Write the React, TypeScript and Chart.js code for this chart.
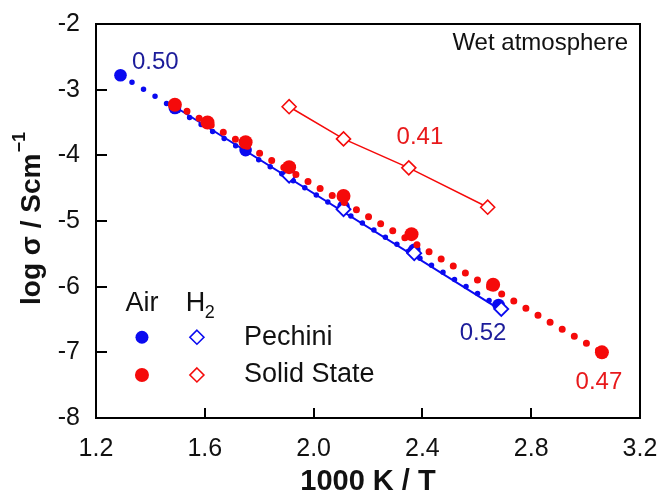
import React, { useEffect, useRef } from "react";
import { Chart, registerables } from "chart.js";

Chart.register(...registerables);

// 1000 K / T values and log conductivity for each sample
const pechiniAirX = [1.29, 1.49, 1.75, 1.91, 2.11, 2.37, 2.68];
const pechiniAirY = [-2.78, -3.28, -3.92, -4.27, -4.78, -5.44, -6.28];

const pechiniH2X = [1.91, 2.11, 2.37, 2.69];
const pechiniH2Y = [-4.31, -4.82, -5.49, -6.34];

const solidAirX = [1.49, 1.61, 1.75, 1.91, 2.11, 2.36, 2.66, 3.06];
const solidAirY = [-3.23, -3.5, -3.8, -4.18, -4.62, -5.2, -5.97, -7.0];

const solidH2X = [1.91, 2.11, 2.35, 2.64];
const solidH2Y = [-3.26, -3.75, -4.19, -4.79];

// Arrhenius fit lines (end points)
const pechiniAirFitX = [1.29, 2.7];
const pechiniAirFitY = [-2.78, -6.35];
const pechiniH2FitX = [1.49, 2.69];
const pechiniH2FitY = [-3.26, -6.36];
const solidAirFitX = [1.49, 3.06];
const solidAirFitY = [-3.22, -7.0];

// Activation energies (eV)
const eaLabels = ["0.50", "0.52", "0.47", "0.41"];

const xTicks = [1.2, 1.6, 2.0, 2.4, 2.8, 3.2];
const yTicks = [-2, -3, -4, -5, -6, -7, -8];

const BLUE = "#0a0af0";
const NAVY = "#1c1c9a";
const RED = "#f50a0a";
const RED_TEXT = "#e8191b";
const FONT = "'Liberation Sans', Arial, sans-serif";

// plot frame inside the 663x498 canvas
const AREA = { left: 96, top: 24, right: 640, bottom: 418 };

const pts = (xs: number[], ys: number[]) => xs.map((x, i) => ({ x, y: ys[i] }));

const framePlugin = {
  id: "frameAndTicks",
  beforeDatasetsDraw(chart: any) {
    const { ctx, chartArea: a, scales } = chart;
    const xs = scales.x;
    const ys = scales.y;
    ctx.save();
    ctx.strokeStyle = "#000";
    ctx.lineWidth = 2;
    ctx.strokeRect(a.left, a.top, a.right - a.left, a.bottom - a.top);
    ctx.beginPath();
    xTicks.slice(1, -1).forEach((v) => {
      const px = Math.round(xs.getPixelForValue(v));
      ctx.moveTo(px, a.bottom);
      ctx.lineTo(px, a.bottom - 10);
    });
    yTicks.slice(1, -1).forEach((v) => {
      const py = Math.round(ys.getPixelForValue(v));
      ctx.moveTo(a.left, py);
      ctx.lineTo(a.left + 11, py);
    });
    ctx.stroke();
    ctx.restore();
  },
};

const textPlugin = {
  id: "textLayer",
  afterDraw(chart: any) {
    const { ctx, scales } = chart;
    const X = (v: number) => scales.x.getPixelForValue(v);
    const Y = (v: number) => scales.y.getPixelForValue(v);
    ctx.save();
    ctx.textBaseline = "middle";

    const put = (t: string, x: number, y: number, color: string, align: CanvasTextAlign, size = 24, weight = "normal") => {
      ctx.font = `${weight} ${size}px ${FONT}`;
      ctx.fillStyle = color;
      ctx.textAlign = align;
      ctx.fillText(t, x, y);
    };

    put(eaLabels[0], X(1.332), Y(-2.58), NAVY, "left");
    put(eaLabels[1], X(2.623), Y(-6.71), NAVY, "center");
    put(eaLabels[2], X(3.049), Y(-7.45), RED_TEXT, "center");
    put(eaLabels[3], X(2.391), Y(-3.72), RED_TEXT, "center");
    put("Wet atmosphere", X(3.156), Y(-2.29), "#111", "right", 24);

    // legend block
    put("Air", X(1.369), Y(-6.25), "#111", "center", 27);
    put("H", X(1.53), Y(-6.25), "#111", "left", 27);
    ctx.font = `normal 18px ${FONT}`;
    ctx.textAlign = "left";
    ctx.fillText("2", X(1.53) + 19, Y(-6.25) + 10);

    const rows = [
      { y: -6.77, color: BLUE, r: 6.5, text: "Pechini" },
      { y: -7.345, color: RED, r: 7, text: "Solid State" },
    ];
    rows.forEach((row) => {
      const cy = Y(row.y);
      ctx.beginPath();
      ctx.fillStyle = row.color;
      ctx.arc(X(1.369), cy, row.r, 0, Math.PI * 2);
      ctx.fill();
      const dx = X(1.571);
      ctx.beginPath();
      ctx.moveTo(dx, cy - 7);
      ctx.lineTo(dx + 7, cy);
      ctx.lineTo(dx, cy + 7);
      ctx.lineTo(dx - 7, cy);
      ctx.closePath();
      ctx.fillStyle = "#fff";
      ctx.fill();
      ctx.strokeStyle = row.color;
      ctx.lineWidth = 1.6;
      ctx.stroke();
      put(row.text, X(1.744), cy, "#111", "left", 27);
    });

    // axis titles
    put("1000 K / T", (chart.chartArea.left + chart.chartArea.right) / 2, 482, "#111", "center", 29, "bold");

    ctx.save();
    ctx.translate(30, (chart.chartArea.top + chart.chartArea.bottom) / 2 - 2);
    ctx.rotate(-Math.PI / 2);
    ctx.font = `bold 28px ${FONT}`;
    const main = "log σ / Scm";
    const wMain = ctx.measureText(main).width;
    ctx.font = `bold 18px ${FONT}`;
    const wSup = ctx.measureText("−1").width;
    const start = -(wMain + wSup) / 2;
    ctx.fillStyle = "#111";
    ctx.textAlign = "left";
    ctx.font = `bold 28px ${FONT}`;
    ctx.fillText(main, start, 2);
    ctx.font = `bold 18px ${FONT}`;
    ctx.fillText("−1", start + wMain + 1, -10);
    ctx.restore();

    ctx.restore();
  },
};

export default function App() {
  const ref = useRef<HTMLCanvasElement>(null);

  useEffect(() => {
    if (!ref.current) return;
    const chart = new Chart(ref.current, {
      type: "scatter",
      data: {
        datasets: [
          {
            label: "Solid State H2",
            data: pts(solidH2X, solidH2Y),
            showLine: true,
            borderColor: RED,
            borderWidth: 1.5,
            pointStyle: "rectRot",
            pointRadius: 7,
            pointBackgroundColor: "#fff",
            pointBorderColor: RED,
            pointBorderWidth: 1.6,
          },
          {
            label: "Solid State Air",
            data: pts(solidAirX, solidAirY),
            pointRadius: 7,
            pointBackgroundColor: RED,
            pointBorderWidth: 0,
          },
          {
            label: "Solid State Air fit",
            data: pts(solidAirFitX, solidAirFitY),
            showLine: true,
            borderColor: RED,
            borderWidth: 7,
            borderDash: [0, 14],
            borderCapStyle: "round",
            pointRadius: 0,
          },
          {
            label: "Pechini H2",
            data: pts(pechiniH2X, pechiniH2Y),
            pointStyle: "rectRot",
            pointRadius: 7,
            pointBackgroundColor: "#fff",
            pointBorderColor: BLUE,
            pointBorderWidth: 1.8,
          },
          {
            label: "Pechini H2 fit",
            data: pts(pechiniH2FitX, pechiniH2FitY),
            showLine: true,
            borderColor: BLUE,
            borderWidth: 2,
            pointRadius: 0,
          },
          {
            label: "Pechini Air",
            data: pts(pechiniAirX, pechiniAirY),
            pointRadius: 6.3,
            pointBackgroundColor: BLUE,
            pointBorderWidth: 0,
          },
          {
            label: "Pechini Air fit",
            data: pts(pechiniAirFitX, pechiniAirFitY),
            showLine: true,
            borderColor: BLUE,
            borderWidth: 5.5,
            borderDash: [0, 13.5],
            borderCapStyle: "round",
            pointRadius: 0,
          },
        ],
      },
      options: {
        animation: false,
        responsive: false,
        layout: { padding: { left: 0, top: AREA.top, right: 663 - AREA.right, bottom: 0 } },
        plugins: { legend: { display: false }, tooltip: { enabled: false } },
        scales: {
          x: {
            type: "linear",
            min: 1.2,
            max: 3.2,
            afterBuildTicks: (s: any) => {
              s.ticks = xTicks.map((v) => ({ value: v }));
            },
            afterFit: (s: any) => {
              s.height = 498 - AREA.bottom;
              s.paddingLeft = 0;
              s.paddingRight = 0;
            },
            grid: { display: false, drawTicks: false },
            border: { display: false },
            ticks: {
              padding: 16,
              color: "#111",
              font: { family: FONT, size: 25 },
              callback: (v: any) => Number(v).toFixed(1),
            },
          },
          y: {
            type: "linear",
            min: -8,
            max: -2,
            afterBuildTicks: (s: any) => {
              s.ticks = yTicks.map((v) => ({ value: v }));
            },
            afterFit: (s: any) => {
              s.width = AREA.left;
              s.paddingTop = 0;
              s.paddingBottom = 0;
            },
            grid: { display: false, drawTicks: false },
            border: { display: false },
            ticks: {
              padding: 16,
              color: "#111",
              font: { family: FONT, size: 25 },
              callback: (v: any) => String(v),
            },
          },
        },
      },
      plugins: [framePlugin, textPlugin],
    });

    return () => chart.destroy();
  }, []);

  return (
    <div style={{ position: "fixed", left: 0, top: 0, width: 663, height: 498, background: "#fff" }}>
      <canvas ref={ref} width={663} height={498} />
    </div>
  );
}
